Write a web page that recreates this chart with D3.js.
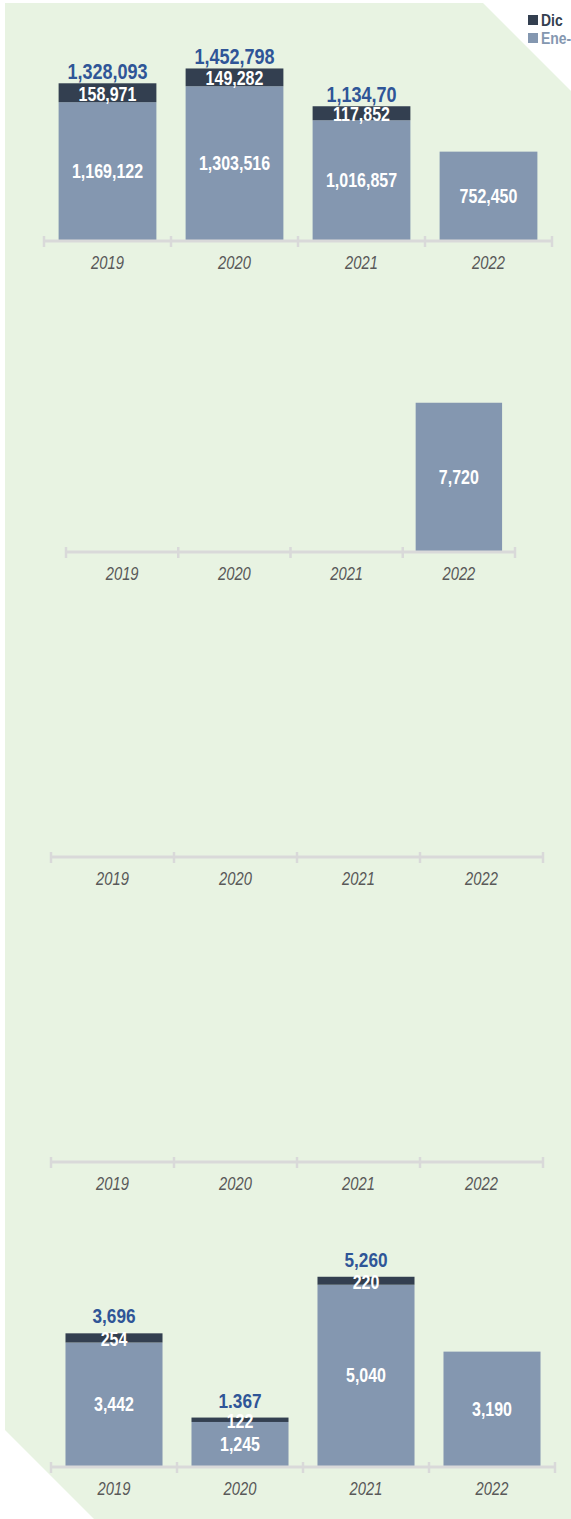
<!DOCTYPE html>
<html>
<head>
<meta charset="utf-8">
<script src="https://cdn.jsdelivr.net/npm/d3@7/dist/d3.min.js"></script>
<style>
  html, body { margin: 0; padding: 0; background: #ffffff; overflow: hidden; }
  svg { display: block; }
  .narrow { font-family: "Liberation Sans", Arial, sans-serif; }
</style>
</head>
<body>
<svg id="chart" width="571" height="1519"></svg>
<script>
// ---------------- DATA ----------------
const years = ["2019", "2020", "2021", "2022"];
const legendLabels = ["Dic", "Ene-"];

// Panel 1
const ene1 = [1169122, 1303516, 1016857, 752450];
const dic1 = [158971, 149282, 117852, null];
const total1 = ["1,328,093", "1,452,798", "1,134,70", null];

// Panel 2
const ene2 = [null, null, null, 7720];
const dic2 = [null, null, null, null];
const total2 = [null, null, null, null];

// Panel 3
const ene3 = [null, null, null, null];
const dic3 = [null, null, null, null];
const total3 = [null, null, null, null];

// Panel 4
const ene4 = [null, null, null, null];
const dic4 = [null, null, null, null];
const total4 = [null, null, null, null];

// Panel 5
const ene5 = [3442, 1245, 5040, 3190];
const dic5 = [254, 122, 220, null];
const total5 = ["3,696", "1.367", "5,260", null];

// ---------------- LAYOUT / STYLE ----------------
const W = 571, H = 1519;
const colEne = "#8497b0", colDic = "#333f50", colTotal = "#2f5597";
const colAxis = "#d9d9d9", colYear = "#595959", colBg = "#e8f3e2";
const NARROW = 0.82; // horizontal condensing to mimic a narrow face

const panels = [
  { ene: ene1, dic: dic1, total: total1, x0: 44, x1: 552, base: 241, max: 1600000, h: 190, gap: 4, totalSize: 22 },
  { ene: ene2, dic: dic2, total: total2, x0: 66, x1: 515, base: 552, max: 9000, h: 174, gap: 4, totalSize: 21 },
  { ene: ene3, dic: dic3, total: total3, x0: 51, x1: 543, base: 857, max: 1, h: 150, gap: 4, totalSize: 21 },
  { ene: ene4, dic: dic4, total: total4, x0: 51, x1: 543, base: 1162, max: 1, h: 150, gap: 4, totalSize: 21 },
  { ene: ene5, dic: dic5, total: total5, x0: 51, x1: 555, base: 1467, max: 6000, h: 217, gap: 10, totalSize: 21 }
];

const svg = d3.select("#chart");

// background shape
svg.append("path")
  .attr("d", `M5,3 L483,3 L${W},91 L${W},${H} L94,${H} L5,1430 Z`)
  .attr("fill", colBg);

const fmt = d3.format(",");
const place = (xf, yf) => d => `translate(${xf(d)},${yf(d)}) scale(${NARROW},1)`;

panels.forEach(p => {
  const g = svg.append("g");
  const x = d3.scaleBand().domain(years).range([p.x0, p.x1])
    .paddingInner(0.23).paddingOuter(0.115);
  const y = d3.scaleLinear().domain([0, p.max]).range([p.base, p.base - p.h]);
  const cx = d => x(d.yr) + x.bandwidth() / 2;

  const rows = years.map((yr, i) => ({
    yr, ene: p.ene[i] || 0, dic: p.dic[i] || 0, hasEne: p.ene[i] != null,
    hasDic: p.dic[i] != null, total: p.total[i]
  }));

  // Ene bars
  g.selectAll(".ene").data(rows.filter(d => d.hasEne)).join("rect")
    .attr("x", d => x(d.yr)).attr("width", x.bandwidth())
    .attr("y", d => y(d.ene)).attr("height", d => y(0) - y(d.ene))
    .attr("fill", colEne);

  // Dic bars
  g.selectAll(".dic").data(rows.filter(d => d.hasDic)).join("rect")
    .attr("x", d => x(d.yr)).attr("width", x.bandwidth())
    .attr("y", d => y(d.ene + d.dic)).attr("height", d => y(d.ene) - y(d.ene + d.dic))
    .attr("fill", colDic);

  // axis line and boundary ticks
  const half = x.step() * x.paddingInner() / 2;
  const bounds = years.map(yr => x(yr) - half).concat([x(years[years.length - 1]) + x.bandwidth() + half]);
  g.append("line").attr("x1", bounds[0]).attr("x2", bounds[bounds.length - 1])
    .attr("y1", p.base).attr("y2", p.base)
    .attr("stroke", colAxis).attr("stroke-width", 3);
  g.selectAll(".tk").data(bounds).join("line")
    .attr("x1", d => d).attr("x2", d => d)
    .attr("y1", p.base - 5).attr("y2", p.base + 6)
    .attr("stroke", colAxis).attr("stroke-width", 2.5);

  // year labels via axis
  const ax = g.append("g").attr("transform", `translate(0,${p.base})`)
    .call(d3.axisBottom(x).tickSize(0).tickPadding(15));
  ax.select(".domain").remove();
  ax.selectAll("text")
    .attr("class", "narrow")
    .attr("fill", colYear)
    .attr("transform", `scale(${NARROW},1)`)
    .style("font-size", "18px")
    .style("font-style", "italic")
    .attr("dy", "0.71em");

  // Ene value labels
  g.selectAll(".eneLbl").data(rows.filter(d => d.hasEne)).join("text")
    .attr("class", "narrow")
    .attr("transform", place(cx, d => (y(0) + y(d.ene)) / 2))
    .attr("text-anchor", "middle").attr("dominant-baseline", "central")
    .attr("fill", "#ffffff").style("font-weight", "bold").style("font-size", "19.5px")
    .text(d => fmt(d.ene));

  // Dic value labels
  g.selectAll(".dicLbl").data(rows.filter(d => d.hasDic)).join("text")
    .attr("class", "narrow")
    .attr("transform", place(cx, d => (y(d.ene) + y(d.ene + d.dic)) / 2 + 1.5))
    .attr("text-anchor", "middle").attr("dominant-baseline", "central")
    .attr("fill", "#ffffff").style("font-weight", "bold").style("font-size", "19.5px")
    .text(d => fmt(d.dic));

  // total labels
  g.selectAll(".totLbl").data(rows.filter(d => d.total)).join("text")
    .attr("class", "narrow")
    .attr("transform", place(cx, d => y(d.ene + d.dic) - p.gap))
    .attr("text-anchor", "middle")
    .attr("fill", colTotal).style("font-weight", "bold").style("font-size", p.totalSize + "px")
    .text(d => d.total);
});

// legend
const legColors = [colDic, colEne];
const leg = svg.append("g");
legendLabels.forEach((t, i) => {
  leg.append("rect").attr("x", 528).attr("y", 15 + i * 18).attr("width", 10).attr("height", 10)
    .attr("fill", legColors[i]);
  leg.append("text").attr("class", "narrow")
    .attr("transform", `translate(541,${20 + i * 18}) scale(${NARROW},1)`)
    .attr("dominant-baseline", "central")
    .attr("fill", legColors[i]).style("font-weight", "bold").style("font-size", "17px")
    .text(t);
});
</script>
</body>
</html>
